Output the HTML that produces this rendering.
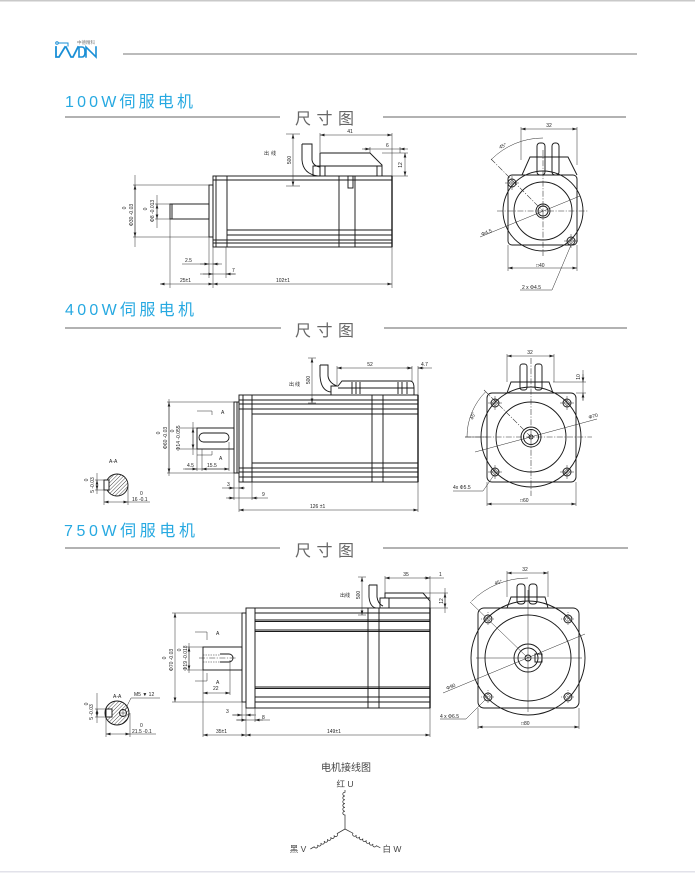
<!DOCTYPE html>
<html><head><meta charset="utf-8">
<style>
html,body{margin:0;padding:0;background:#fff;width:695px;height:874px;overflow:hidden}
svg{display:block}
</style></head>
<body>
<svg width="695" height="874" viewBox="0 0 695 874" xmlns="http://www.w3.org/2000/svg">
<defs>
<marker id="a" viewBox="0 0 10 10" refX="10" refY="5" markerWidth="4.5" markerHeight="4.5" markerUnits="userSpaceOnUse" orient="auto-start-reverse"><path d="M0,2 L10,5 L0,8z" fill="#222"/></marker>
<pattern id="h" width="2.6" height="2.6" patternUnits="userSpaceOnUse" patternTransform="rotate(45)"><line x1="0" y1="0" x2="0" y2="2.6" stroke="#222" stroke-width=".8"/></pattern>
</defs>
<style>
.l{stroke:#1a1a1a;stroke-width:.95;fill:none}
.t{stroke:#2a2a2a;stroke-width:.5;fill:none}
.m{stroke:#2a2a2a;stroke-width:.5;fill:none;marker-start:url(#a);marker-end:url(#a)}
.e{stroke:#2a2a2a;stroke-width:.5;fill:none;marker-end:url(#a)}
.c{stroke:#2a2a2a;stroke-width:.55;fill:none;stroke-dasharray:6 1.5 1.2 1.5}
.d{font-family:"Liberation Sans","DejaVu Sans","Noto Sans CJK SC",sans-serif;font-size:5px;fill:#222}
.ti{font-family:"Liberation Sans","Noto Sans CJK SC",sans-serif;font-size:16px;fill:#27a9e1}
.cc{font-family:"Liberation Sans","Noto Sans CJK SC",sans-serif;font-size:16px;fill:#666}
.w{font-family:"Liberation Sans","Noto Sans CJK SC",sans-serif;fill:#444}
</style>

<!-- page frame lines -->
<rect x="0" y="0" width="695" height="1.5" fill="#c9c9c9"/>
<rect x="0" y="871" width="695" height="1.5" fill="#e2e2ea"/>

<!-- logo -->
<g stroke="#1a8fd6" stroke-width="1.8" fill="none" stroke-linecap="square">
<circle cx="57" cy="43" r="1.3" stroke-width="1"/>
<path d="M58.5,43H68V46" stroke-width="1"/>
<path d="M56,47V57H59L65,47"/>
<path d="M66,47L71,57H73L78,47"/>
<path d="M79,47H82Q85,47 85,52Q85,57 82,57H79Z" stroke-width="1.6"/>
<path d="M86,57V47L96,57V47" stroke-width="1.6"/>
</g>
<text x="77" y="44" style="font-family:'Liberation Sans','Noto Sans CJK SC',sans-serif;font-size:4.5px;fill:#777">中德精科</text>
<line x1="123" y1="54" x2="637" y2="54" stroke="#777" stroke-width="1"/>

<!-- section titles -->
<text class="ti" x="65" y="107" textLength="128" lengthAdjust="spacing">100W伺服电机</text>
<line x1="65" y1="117" x2="280" y2="117" stroke="#666" stroke-width="1"/>
<text class="cc" x="295" y="124" textLength="59" lengthAdjust="spacing">尺寸图</text>
<line x1="383" y1="117" x2="626" y2="117" stroke="#666" stroke-width="1"/>

<text class="ti" x="65" y="315" textLength="129" lengthAdjust="spacing">400W伺服电机</text>
<line x1="65" y1="328" x2="281" y2="328" stroke="#666" stroke-width="1"/>
<text class="cc" x="295" y="336" textLength="59" lengthAdjust="spacing">尺寸图</text>
<line x1="384" y1="328" x2="627" y2="328" stroke="#666" stroke-width="1"/>

<text class="ti" x="64" y="536" textLength="131" lengthAdjust="spacing">750W伺服电机</text>
<line x1="65" y1="548" x2="280" y2="548" stroke="#666" stroke-width="1"/>
<text class="cc" x="295" y="556" textLength="59" lengthAdjust="spacing">尺寸图</text>
<line x1="383" y1="548" x2="628" y2="548" stroke="#666" stroke-width="1"/>

<!-- ================= 100W SIDE ================= -->
<g class="l">
<rect x="213" y="176" width="179" height="71"/>
<rect x="209" y="185" width="4" height="52"/>
<path d="M216,176V247M227,176V247M213,180H392M227,230H392M227,235H392M213,240H392M213,243H392M339,176V247M355,176V247"/>
<rect x="348" y="176" width="5" height="12"/>
<rect x="170" y="204" width="39" height="15"/>
<path d="M172,204V219"/>
<path d="M320,176V153H370L382,165V176M320,166H382M325,166V176M377,166V176"/>
<path d="M302,144H312V160Q313,166 320,167M302,144V160Q303,174 318,176"/>
<rect x="313" y="166" width="7" height="10"/>
<path d="M392,176V247" stroke-width="1.4"/>
</g>
<g class="t">
<path d="M320,133V152M392,133V176M370,147V153M400,147V153M382,153H408M392,176H408M286,134H300M286,186H300"/>
<path d="M133,185H209M133,237H209M155,204H170M155,219H170"/>
<path d="M170,219V288M209,237V278M213,247V288M226,247V278M392,247V288"/>
</g>
<path class="m" d="M320,135H392"/>
<path class="t" d="M364,149H404"/><path class="e" d="M362,149H370"/><path class="e" d="M408,149H400"/>
<path class="m" d="M405,153V176"/>
<path class="m" d="M293,134V186"/>
<path class="m" d="M135,185V237"/><path class="t" d="M135,175V247"/>
<path class="m" d="M157,204V219"/><path class="t" d="M157,195V228"/>
<path class="t" d="M182,264H219"/><path class="e" d="M200,264H209"/><path class="e" d="M222,264H213"/>
<path class="t" d="M203,274H235"/><path class="e" d="M200,274H213"/><path class="e" d="M236,274H226"/>
<path class="m" d="M160,284H213"/>
<path class="m" d="M213,284H392"/>
<text class="d" x="350" y="133" text-anchor="middle">41</text>
<text class="d" x="386" y="147">6</text>
<text class="d" transform="translate(402,165) rotate(-90)" text-anchor="middle">12</text>
<text class="d" transform="translate(291,160) rotate(-90)" text-anchor="middle">500</text>
<text class="d" x="264" y="155" textLength="12" lengthAdjust="spacing">出线</text>
<text class="d" transform="translate(133,215) rotate(-90)" text-anchor="middle">Φ30 -0.03</text>
<text class="d" transform="translate(126,208) rotate(-90)" text-anchor="middle">0</text>
<text class="d" transform="translate(154,211) rotate(-90)" text-anchor="middle">Φ8 -0.013</text>
<text class="d" transform="translate(147,209) rotate(-90)" text-anchor="middle">0</text>
<text class="d" x="185" y="262">2.5</text>
<text class="d" x="232" y="272">7</text>
<text class="d" x="180" y="282">25±1</text>
<text class="d" x="276" y="282">102±1</text>

<!-- ================= 100W FRONT ================= -->
<g class="l">
<rect x="508" y="175" width="69" height="70" rx="4"/>
<circle cx="543" cy="211" r="40"/>
<circle cx="543" cy="211" r="29"/>
<circle cx="543" cy="211" r="7"/>
<circle cx="543" cy="211" r="5"/>
<path d="M522,175L530,157H568L577,175"/>
<rect x="537" y="143" width="8" height="32" rx="3"/>
<rect x="552" y="143" width="7" height="32" rx="3"/>
<circle cx="512" cy="183" r="4"/><circle cx="571" cy="241" r="4"/>
</g>
<g class="t">
<circle cx="512" cy="183" r="2.3"/><circle cx="571" cy="241" r="2.3"/>
<path d="M505,183H519M512,176V190M564,241H578M571,234V248"/>
<path d="M480,237L580,196"/>
<path d="M491.4,159.4A73,73 0 0,1 543,138"/>
<path d="M521,127V160M577,127V165M508,245V271M577,245V271"/>
<path d="M520,290H552L571,245"/>
</g>
<path class="c" d="M497,211H588M543,150V256M491,159L543,211"/>
<path class="m" d="M521,129H577"/>
<path class="m" d="M508,268H577"/>
<text class="d" x="549" y="127" text-anchor="middle">32</text>
<text class="d" transform="translate(500,149) rotate(-25)">45°</text>
<text class="d" transform="translate(482,236) rotate(-22)">Φ4.5</text>
<text class="d" x="536" y="267">□40</text>
<text class="d" x="522" y="289">2 x Φ4.5</text>

<!-- ================= 400W SIDE ================= -->
<g class="l">
<rect x="239" y="395" width="179" height="87"/>
<rect x="234" y="402" width="5" height="71"/>
<path d="M237,402V473M243,395V482M252,395V482M372,395V482M383,395V482"/>
<path d="M239,400H418M239,404H418M239,409H418M252,414H418M252,463H418M239,468H418M239,472H418M239,477H418"/>
<path d="M418,395V482" stroke-width="1.4"/>
<rect x="197" y="428" width="37" height="21"/>
<rect x="199" y="433" width="30" height="9" rx="4.5"/>
<path d="M320,365H328V376Q329,383 337,386M320,365V376Q321,391 331,392"/>
<path d="M331,395V386H338L342,381H410Q414,381 414,388V395M338,388H414"/>
<path d="M352,382V394M356,382V394M360,382V394M398,382V394M402,382V394M407,382V394"/>
</g>
<g class="t">
<path d="M337,366V385M412,366V381M418,366V395M308,358H316M308,403H316"/>
<path d="M167,402H234M167,473H234M180,428H197M180,449H197"/>
<path d="M197,449V471M202,449V471M229,442V471M234,473V500M239,482V512M252,482V500M418,482V512"/>
<path d="M197,411H212V415M197,455H212V451"/>
</g>
<path class="m" d="M337,368H412"/>
<path class="t" d="M418,368H432"/><path class="e" d="M406,368H412"/><path class="e" d="M424,368H418"/>
<path class="m" d="M312,358V403"/>
<path class="m" d="M169,402V473"/><path class="t" d="M169,399V476"/>
<path class="m" d="M193,428V449"/><path class="t" d="M193,422V455"/>
<path class="t" d="M183,469H229"/><path class="e" d="M185,469H197"/><path class="e" d="M215,469H202"/><path class="e" d="M215,469H229"/>
<path class="t" d="M222,488H240"/><path class="e" d="M228,488H234"/><path class="e" d="M245,488H239"/>
<path class="t" d="M228,498H268"/><path class="e" d="M226,498H234"/><path class="e" d="M258,498H252"/>
<path class="m" d="M239,510H418"/>
<text class="d" x="370" y="366" text-anchor="middle">52</text>
<text class="d" x="421" y="366">4.7</text>
<text class="d" transform="translate(310,380) rotate(-90)" text-anchor="middle">500</text>
<text class="d" x="289" y="386" textLength="11" lengthAdjust="spacing">出线</text>
<text class="d" transform="translate(167,438) rotate(-90)" text-anchor="middle">Φ60 -0.03</text>
<text class="d" transform="translate(160,433) rotate(-90)" text-anchor="middle">0</text>
<text class="d" transform="translate(180,438) rotate(-90)" text-anchor="middle">Φ14 -0.055</text>
<text class="d" transform="translate(174,431) rotate(-90)" text-anchor="middle">0</text>
<text class="d" x="221" y="414">A</text>
<text class="d" x="219" y="460">A</text>
<text class="d" x="187" y="467">4.5</text>
<text class="d" x="207" y="467">15.5</text>
<text class="d" x="227" y="486">3</text>
<text class="d" x="262" y="496">9</text>
<text class="d" x="310" y="508">126 ±1</text>

<!-- 400W section A-A -->
<circle cx="117" cy="485" r="11" style="fill:url(#h);stroke:#1a1a1a;stroke-width:.95"/>
<rect x="104" y="480" width="5" height="10" style="fill:#fff;stroke:#1a1a1a;stroke-width:.95"/>
<g class="t">
<path d="M95,480H104M95,490H104M104,490V505M128,485V505"/>
</g>
<path class="m" d="M97,480V490"/><path class="t" d="M97,473V494"/>
<path class="m" d="M104,502H128"/><path class="t" d="M128,502H150"/>
<text class="d" x="109" y="463">A-A</text>
<text class="d" transform="translate(94,485) rotate(-90)" text-anchor="middle">5 -0.03</text>
<text class="d" transform="translate(88,480) rotate(-90)" text-anchor="middle">0</text>
<text class="d" x="132" y="501">16 -0.1</text>
<text class="d" x="140" y="495" font-size="4">0</text>

<!-- ================= 400W FRONT ================= -->
<g class="l">
<rect x="487" y="393" width="89" height="89" rx="5"/>
<circle cx="531" cy="437" r="50"/>
<circle cx="531" cy="437" r="35"/>
<circle cx="531" cy="437" r="10"/>
<circle cx="531" cy="437" r="7.5"/>
<circle cx="531" cy="437" r="2"/>
<path d="M507,393L511,382H549L553,393"/>
<rect x="520" y="364" width="7" height="26" rx="2.5"/>
<rect x="535" y="364" width="7" height="26" rx="2.5"/>
<circle cx="495" cy="403" r="4"/><circle cx="567" cy="403" r="4"/>
<circle cx="495" cy="472" r="4"/><circle cx="567" cy="472" r="4"/>
</g>
<g class="t">
<circle cx="495" cy="403" r="2.3"/><circle cx="567" cy="403" r="2.3"/>
<circle cx="495" cy="472" r="2.3"/><circle cx="567" cy="472" r="2.3"/>
<path d="M488,403H502M495,396V410M560,403H574M567,396V410M488,472H502M495,465V479M560,472H574M567,465V479"/>
<path d="M475,452L597,419"/>
<path d="M467,437A64,64 0 0,1 485.7,391.7"/>
<path d="M465,437H487"/>
<path d="M507,354V382M554,354V382M553,382H586M576,393H586M487,482V506M576,482V506"/>
<path d="M453,491H483L494,475"/>
</g>
<path class="c" d="M465,437H592M531,358V496M484,390L531,437"/>
<path class="m" d="M507,356H554"/>
<path class="t" d="M583,370V400"/><path class="e" d="M583,374V382"/><path class="e" d="M583,401V393"/>
<path class="m" d="M487,504H576"/>
<text class="d" x="530" y="354" text-anchor="middle">32</text>
<text class="d" transform="translate(580,377) rotate(-90)" text-anchor="middle">10</text>
<text class="d" transform="translate(473,420) rotate(-70)">45°</text>
<text class="d" transform="translate(589,419) rotate(-15)">Φ70</text>
<text class="d" x="453" y="489">4x Φ5.5</text>
<text class="d" x="520" y="502">□60</text>

<!-- ================= 750W SIDE ================= -->
<g class="l">
<rect x="246" y="608" width="184" height="100"/>
<rect x="242" y="613" width="4" height="89"/>
<path d="M255,608V708M368,608V708M379,608V708"/>
<path d="M255,613H430M255,620H430M255,621.5H430M255,630H430M255,631.5H430M255,687H430M255,688.5H430M255,697H430M255,702H430"/>
<path d="M430,608V708" stroke-width="1.4"/>
<rect x="203" y="647" width="39" height="23"/>
<path d="M220,654H229A4,4 0 0 1 229,662H220"/>
<path d="M369,585H377V597Q378,604 383,606M369,585V597Q370,607 376,608"/>
<path d="M380,608V598H385V593H423L430,601V608M385,598H430M389,598V608"/>
</g>
<path class="t" d="M203,655H220M203,662H220" stroke-dasharray="1.5 1"/>
<path class="c" d="M199,658H237"/>
<g class="t">
<path d="M385,576V593M430,576V601M423,593H448M430,608H448M358,577H366M358,615H366"/>
<path d="M172,613H242M172,702H242M187,647H203M187,670H203"/>
<path d="M203,670V737M230,660V695M242,702V722M246,708V737M255,708V722M430,708V737"/>
<path d="M195,632H207V640M195,681H207V673"/>
</g>
<path class="m" d="M385,578H430"/>
<path class="t" d="M430,578H444"/><path class="e" d="M424,578H430"/>
<path class="m" d="M445,593V608"/><path class="t" d="M445,588V613"/>
<path class="m" d="M362,577V615"/>
<path class="m" d="M175,613V702"/>
<path class="m" d="M189,647V670"/><path class="t" d="M189,643V673"/>
<path class="m" d="M203,693H230"/>
<path class="t" d="M232,715H256"/><path class="e" d="M233,715H242"/><path class="e" d="M254,715H246"/>
<path class="t" d="M236,720H270"/><path class="e" d="M237,720H246"/><path class="e" d="M263,720H255"/>
<path class="m" d="M203,735H246"/>
<path class="m" d="M246,735H430"/>
<text class="d" x="406" y="576" text-anchor="middle">35</text>
<text class="d" x="439" y="576">1</text>
<text class="d" transform="translate(443,601) rotate(-90)" text-anchor="middle">12</text>
<text class="d" transform="translate(360,595) rotate(-90)" text-anchor="middle">500</text>
<text class="d" x="340" y="597" textLength="10" lengthAdjust="spacing">出线</text>
<text class="d" transform="translate(173,660) rotate(-90)" text-anchor="middle">Φ70 -0.03</text>
<text class="d" transform="translate(166,658) rotate(-90)" text-anchor="middle">0</text>
<text class="d" transform="translate(187,658) rotate(-90)" text-anchor="middle">Φ19 -0.018</text>
<text class="d" transform="translate(181,650) rotate(-90)" text-anchor="middle">0</text>
<text class="d" x="216" y="635">A</text>
<text class="d" x="216" y="684">A</text>
<text class="d" x="213" y="690">22</text>
<text class="d" x="226" y="713">3</text>
<text class="d" x="262" y="719">8</text>
<text class="d" x="216" y="733">35±1</text>
<text class="d" x="327" y="733">149±1</text>

<!-- 750W section A-A -->
<circle cx="117" cy="713" r="12" style="fill:url(#h);stroke:#1a1a1a;stroke-width:.95"/>
<rect x="106" y="709" width="6" height="8" style="fill:#fff;stroke:#1a1a1a;stroke-width:.95"/>
<circle cx="123" cy="713" r="3.5" style="fill:#fff;stroke:#1a1a1a;stroke-width:.95"/>
<path class="t" d="M119,713H127M123,709V717"/>
<g class="t">
<path d="M95,709H106M95,717H106M106,717V737M130,713V737"/>
<path d="M131,698H160M131,698L125,710"/>
</g>
<path class="m" d="M97,709V717"/><path class="t" d="M97,693V723"/>
<path class="m" d="M106,734H130"/><path class="t" d="M130,734H156"/>
<text class="d" x="113" y="698">A-A</text>
<text class="d" x="134" y="696">M5 ▼ 12</text>
<text class="d" transform="translate(93,712) rotate(-90)" text-anchor="middle">5 -0.03</text>
<text class="d" transform="translate(88,704) rotate(-90)" text-anchor="middle">0</text>
<text class="d" x="132" y="733">21.5 -0.1</text>
<text class="d" x="140" y="727" font-size="4">0</text>

<!-- ================= 750W FRONT ================= -->
<g class="l">
<rect x="478" y="608" width="101" height="100" rx="6"/>
<circle cx="528" cy="658" r="57"/>
<circle cx="528" cy="658" r="43"/>
<circle cx="528" cy="658" r="14"/>
<circle cx="528" cy="658" r="10"/>
<circle cx="528" cy="658" r="3"/>
<rect x="535" y="654" width="7" height="8"/>
<path d="M507,608L511,597H545L548,608"/>
<rect x="517" y="584" width="8" height="20" rx="3"/>
<rect x="529" y="584" width="8" height="20" rx="3"/>
<circle cx="488" cy="619" r="4"/><circle cx="568" cy="619" r="4"/>
<circle cx="488" cy="697" r="4"/><circle cx="568" cy="697" r="4"/>
</g>
<g class="t">
<circle cx="488" cy="619" r="2.3"/><circle cx="568" cy="619" r="2.3"/>
<circle cx="488" cy="697" r="2.3"/><circle cx="568" cy="697" r="2.3"/>
<path d="M481,619H495M488,612V626M561,619H575M568,612V626M481,697H495M488,690V704M561,697H575M568,690V704" stroke-dasharray="1 1"/>
<path d="M476,658H582M528,590V712"/>
<path d="M470,602L528,658"/>
<path d="M443,693L585,634"/>
<path d="M471.4,601.4A80,80 0 0,1 528,578"/>
<path d="M507,571V597M548,571V597M478,708V729M579,708V729"/>
<path d="M440,719H466L486,699"/>
</g>
<path class="m" d="M507,573H548"/>
<path class="m" d="M478,727H579"/>
<text class="d" x="525" y="571" text-anchor="middle">32</text>
<text class="d" transform="translate(495,585) rotate(-15)">45°</text>
<text class="d" transform="translate(447,690) rotate(-22)">Φ90</text>
<text class="d" x="440" y="718">4 x Φ6.5</text>
<text class="d" x="521" y="725">□80</text>

<!-- ================= WIRING ================= -->
<text class="w" x="346" y="771" font-size="10" text-anchor="middle">电机接线图</text>
<text class="w" x="345" y="787" font-size="8.5" text-anchor="middle">红 U</text>
<text class="w" x="298" y="852" font-size="8.5" text-anchor="middle">黑 V</text>
<text class="w" x="392" y="852" font-size="8.5" text-anchor="middle">白 W</text>
<g style="stroke:#333;stroke-width:.75;fill:none">
<g transform="translate(345,829) rotate(-90)"><path d="M0,0H14a1.9,2.2 0 1 1 3.8,0a1.9,2.2 0 1 1 3.8,0a1.9,2.2 0 1 1 3.8,0a1.9,2.2 0 1 1 3.8,0a1.9,2.2 0 1 1 3.8,0a1.9,2.2 0 1 1 3.8,0H39"/></g>
<g transform="translate(345,829) rotate(150)"><path d="M0,0H9a1.9,2.2 0 1 1 3.8,0a1.9,2.2 0 1 1 3.8,0a1.9,2.2 0 1 1 3.8,0a1.9,2.2 0 1 1 3.8,0a1.9,2.2 0 1 1 3.8,0a1.9,2.2 0 1 1 3.8,0a1.9,2.2 0 1 1 3.8,0H40"/></g>
<g transform="translate(345,829) rotate(28)"><path d="M0,0H9a1.9,2.2 0 1 0 3.8,0a1.9,2.2 0 1 0 3.8,0a1.9,2.2 0 1 0 3.8,0a1.9,2.2 0 1 0 3.8,0a1.9,2.2 0 1 0 3.8,0a1.9,2.2 0 1 0 3.8,0a1.9,2.2 0 1 0 3.8,0H40"/></g>
</g>
</svg>
</body></html>
